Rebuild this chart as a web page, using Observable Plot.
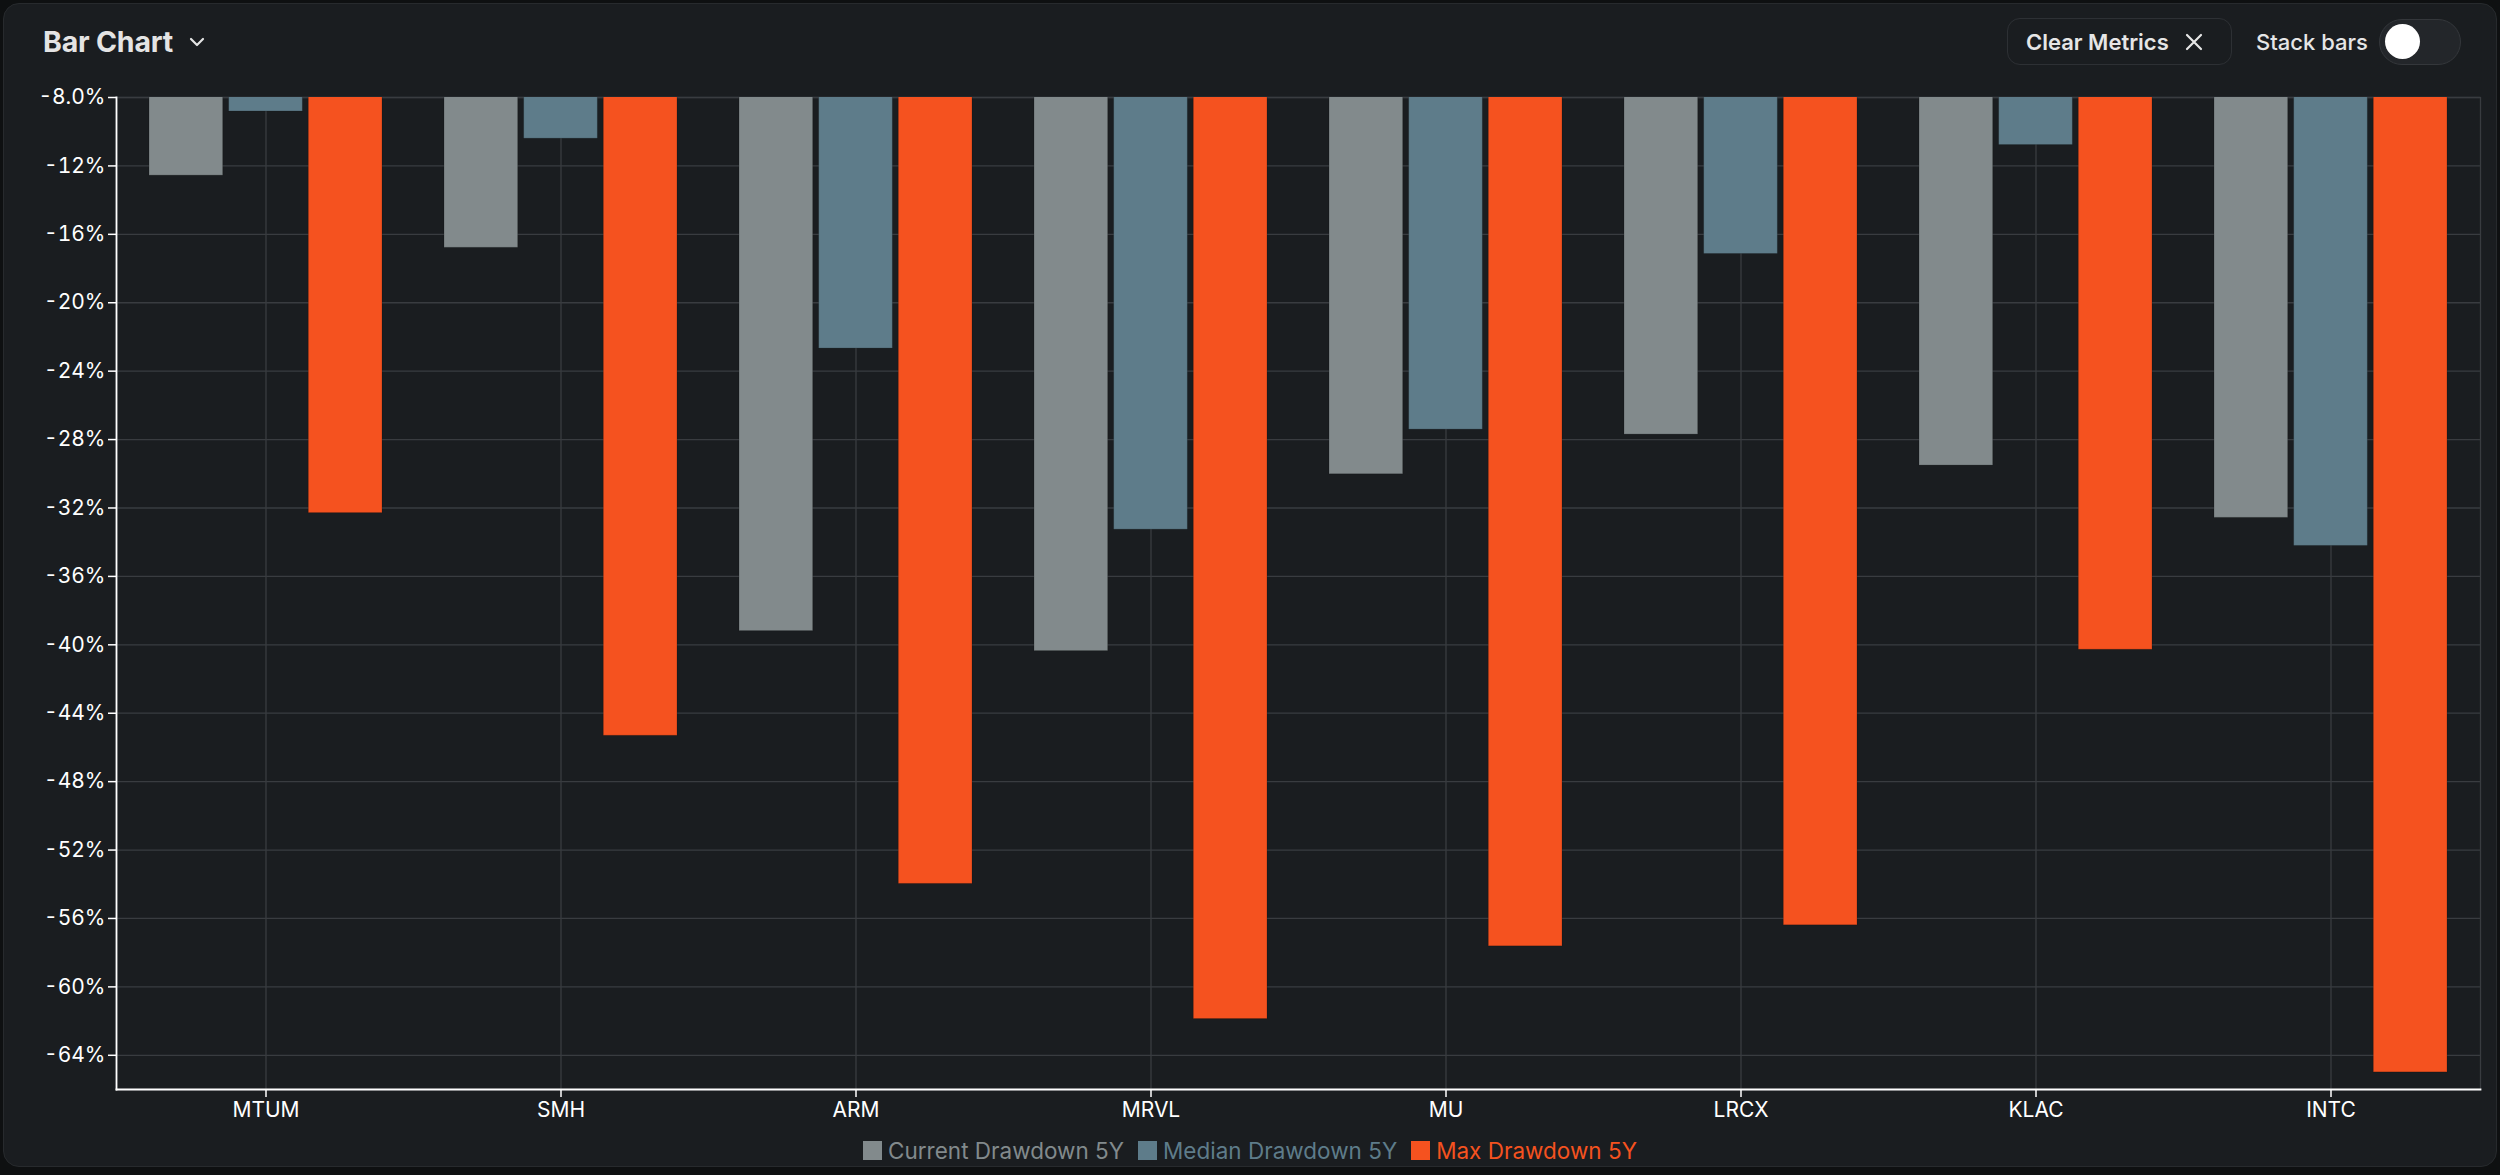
<!DOCTYPE html>
<html>
<head>
<meta charset="utf-8">
<script src="https://cdn.jsdelivr.net/npm/d3@7"></script>
<script src="https://cdn.jsdelivr.net/npm/@observablehq/plot@0.6"></script>
<style>
  html, body { margin: 0; padding: 0; background: #0e1011; width: 2500px; height: 1175px; overflow: hidden; font-family: Inter, "Noto Sans", sans-serif; }
  #panel { position: absolute; left: 3px; top: 3px; width: 2494px; height: 1164px; background: #1a1d20; border: 1.5px solid #272a2d; border-radius: 16px; box-sizing: border-box; }
  #title { position: absolute; left: 43px; top: 23px; height: 38px; line-height: 38px; font-size: 28.5px; font-weight: 700; color: #e4e4e4; display: flex; align-items: center; letter-spacing: -0.2px; }
  #title svg { margin-left: 16px; }
  #clear { position: absolute; left: 2007px; top: 18px; width: 225px; height: 47px; box-sizing: border-box; border: 1.5px solid #2d3034; border-radius: 13px; display: flex; align-items: center; padding-left: 18px; font-size: 22px; font-weight: 600; color: #e6e6e6; }
  #clear svg { margin-left: 16px; }
  #stack { position: absolute; left: 2256px; top: 24px; height: 36px; line-height: 36px; font-size: 22px; font-weight: 500; color: #e6e6e6; }
  #toggle { position: absolute; left: 2379px; top: 19px; width: 82px; height: 46px; box-sizing: border-box; border: 1.5px solid #34373b; border-radius: 23px; background: #23262a; }
  #knob { position: absolute; left: 5px; top: 4px; width: 35px; height: 35px; border-radius: 50%; background: #ffffff; }
  #chart { position: absolute; left: 0; top: 60px; }
  #legend { position: absolute; left: 0; top: 1136px; width: 2500px; height: 28px; display: flex; justify-content: center; align-items: center; font-size: 22.5px; }
  .item { display: flex; align-items: center; margin: 0 7px; }
  .sw { width: 19px; height: 19px; margin-right: 6px; }
</style>
</head>
<body>
<div id="panel"></div>
<div id="title">Bar Chart<svg width="16" height="10" viewBox="0 0 16 10"><polyline points="2,2 8,8 14,2" fill="none" stroke="#e4e4e4" stroke-width="2.2" stroke-linecap="round" stroke-linejoin="round"/></svg></div>
<div id="clear">Clear Metrics<svg width="18" height="18" viewBox="0 0 18 18"><path d="M2 2L16 16M16 2L2 16" stroke="#e6e6e6" stroke-width="2.2" stroke-linecap="round"/></svg></div>
<div id="stack">Stack bars</div>
<div id="toggle"><div id="knob"></div></div>
<div id="chart"></div>
<div id="legend"></div>
<script>
const tickers = ["MTUM", "SMH", "ARM", "MRVL", "MU", "LRCX", "KLAC", "INTC"];
const currentDrawdown = [-12.57, -16.79, -39.20, -40.37, -30.03, -27.71, -29.52, -32.58];
const medianDrawdown  = [-8.82, -10.41, -22.68, -33.27, -27.42, -17.15, -10.78, -34.22];
const maxDrawdown     = [-32.30, -45.32, -53.98, -61.88, -57.63, -56.40, -40.29, -65.00];
const seriesNames = ["Current Drawdown 5Y", "Median Drawdown 5Y", "Max Drawdown 5Y"];
const seriesColors = ["#828a8c", "#5e7c8a", "#f5521f"];
const yTicks = [-8, -12, -16, -20, -24, -28, -32, -36, -40, -44, -48, -52, -56, -60, -64];
const yDomain = [-66, -8];

const seriesValues = [currentDrawdown, medianDrawdown, maxDrawdown];
const rows = seriesNames.map((name, s) => tickers.map((t, i) => ({ticker: t, series: name, value: seriesValues[s][i]})));

const W = 2500, H = 1070, ML = 116, MR = 20, MT = 37, MB = 41;
const PAD = 0.21, GAP = 5.5;
const bw = ((W - ML - MR) / tickers.length) * (1 - PAD);
const slot = (bw + GAP) / 3;

const fmtPct = d => d3.format(".2p")(d / 100).replace("\u2212", "-");
const gridColor = "#393c40";

const chart = Plot.plot({
  width: W, height: H,
  marginLeft: ML, marginRight: MR, marginTop: MT, marginBottom: MB,
  style: {background: "transparent", color: "#ffffff", fontFamily: "Inter, 'Noto Sans', sans-serif"},
  x: {domain: tickers, paddingInner: PAD, paddingOuter: PAD / 2},
  y: {domain: yDomain},
  marks: [
    Plot.gridY(yTicks, {stroke: gridColor, strokeOpacity: 1, strokeWidth: 1.3}),
    Plot.gridX({stroke: gridColor, strokeOpacity: 1, strokeWidth: 1.3}),
    Plot.frame({stroke: gridColor, strokeWidth: 1.3}),
    ...rows.map((data, s) => Plot.barY(data, {
      x: "ticker", y: "value", fill: seriesColors[s],
      stroke: "#000", strokeOpacity: 0.18, strokeWidth: 1,
      insetLeft: s * slot, insetRight: (2 - s) * slot, clip: true
    })),
    Plot.axisY(yTicks, {tickFormat: fmtPct, tickSize: 8, tickPadding: 3, fontSize: 21, color: "#ffffff", strokeWidth: 1.5, label: null}),
    Plot.axisX({tickSize: 8, tickPadding: 5, fontSize: 21, color: "#ffffff", strokeWidth: 1.5, label: null}),
    Plot.frame({anchor: "left", stroke: "#ffffff", strokeWidth: 1.8}),
    Plot.frame({anchor: "bottom", stroke: "#ffffff", strokeWidth: 1.8})
  ]
});
document.getElementById("chart").appendChild(chart);

const legend = document.getElementById("legend");
seriesNames.forEach((name, s) => {
  const item = document.createElement("div");
  item.className = "item";
  const sw = document.createElement("div");
  sw.className = "sw";
  sw.style.background = seriesColors[s];
  const label = document.createElement("span");
  label.textContent = name;
  label.style.color = seriesColors[s];
  item.appendChild(sw);
  item.appendChild(label);
  legend.appendChild(item);
});
</script>
</body>
</html>
